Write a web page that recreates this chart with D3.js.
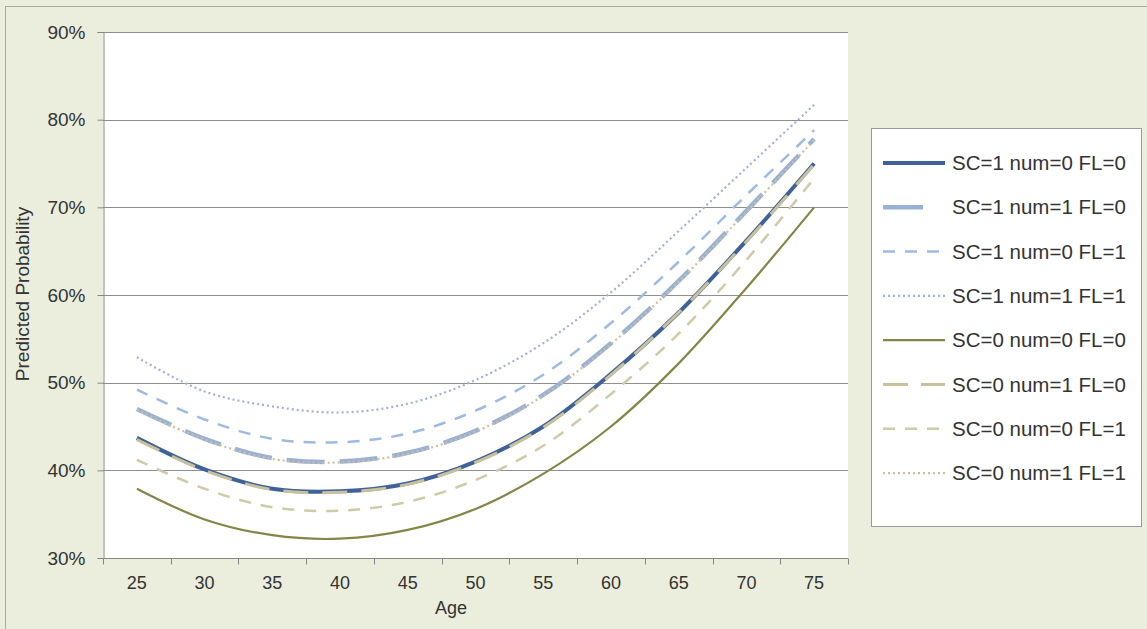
<!DOCTYPE html>
<html>
<head>
<meta charset="utf-8">
<script src="https://cdn.jsdelivr.net/npm/d3@7"></script>
<style>
  html, body { margin: 0; padding: 0; background: #ebeedd; }
  svg { display: block; font-family: "Liberation Sans", Arial, sans-serif; }
</style>
</head>
<body>
<svg id="chart" width="1147" height="629"></svg>
<script>
// Age categories on the x axis
const ages = [25, 30, 35, 40, 45, 50, 55, 60, 65, 70, 75];

// Predicted probabilities (%) for each covariate profile
const sc1num0fl0 = [43.7, 40.1, 37.9, 37.6, 38.5, 41.0, 45.0, 51.0, 58.0, 66.2, 75.0];
const sc1num1fl0 = [47.0, 43.6, 41.4, 41.0, 42.0, 44.5, 48.6, 54.5, 61.6, 69.6, 77.8];
const sc1num0fl1 = [49.2, 45.8, 43.6, 43.2, 44.2, 46.8, 50.9, 56.8, 63.8, 71.4, 78.8];
const sc1num1fl1 = [52.9, 49.0, 47.3, 46.6, 47.6, 50.3, 54.5, 60.3, 67.3, 74.5, 81.7];
const sc0num0fl0 = [37.9, 34.4, 32.6, 32.2, 33.2, 35.6, 39.6, 45.0, 52.2, 60.8, 70.0];
const sc0num1fl0 = [43.5, 40.0, 37.8, 37.5, 38.4, 40.9, 44.9, 50.9, 58.0, 66.1, 74.9];
const sc0num0fl1 = [41.2, 37.9, 35.8, 35.4, 36.4, 38.9, 42.8, 48.7, 55.6, 64.0, 73.3];
const sc0num1fl1 = [46.9, 43.5, 41.3, 40.9, 41.9, 44.4, 48.5, 54.4, 61.5, 69.5, 77.7];

const seriesNames = [
  "SC=1 num=0 FL=0", "SC=1 num=1 FL=0", "SC=1 num=0 FL=1", "SC=1 num=1 FL=1",
  "SC=0 num=0 FL=0", "SC=0 num=1 FL=0", "SC=0 num=0 FL=1", "SC=0 num=1 FL=1"
];
const seriesValues = [sc1num0fl0, sc1num1fl0, sc1num0fl1, sc1num1fl1,
                      sc0num0fl0, sc0num1fl0, sc0num0fl1, sc0num1fl1];

const yTicks = [30, 40, 50, 60, 70, 80, 90];

// Line styling per series
const styles = [
  { color: "#3f6399", width: 4,   dash: null },
  { color: "#98b1d6", width: 4.5, dash: "38,15" },
  { color: "#9dbbe2", width: 2.5, dash: "12,10" },
  { color: "#a3b0d2", width: 2.2, dash: "2,3" },
  { color: "#858548", width: 2.2, dash: null },
  { color: "#c8c19c", width: 3,   dash: "25,14" },
  { color: "#d0caa8", width: 2.5, dash: "12,10" },
  { color: "#cdbf9c", width: 2.2, dash: "2,3" }
];
const legendDash = ["", "40,40", "12,10", "2,3", "", "25,13", "12,10", "2,3"];

const svg = d3.select("#chart");

// Outer chart frame
svg.append("rect")
  .attr("x", 5.5).attr("y", 6.5).attr("width", 1150).attr("height", 640)
  .attr("fill", "#ebeedd").attr("stroke", "#a8aaa0");

const plot = { left: 103, right: 848, top: 32, bottom: 558 };

const x = d3.scaleBand().domain(ages).range([plot.left, plot.right]).padding(0);
const y = d3.scaleLinear().domain([30, 90]).range([plot.bottom, plot.top]);

// White plot area
svg.append("rect")
  .attr("x", plot.left).attr("y", plot.top)
  .attr("width", plot.right - plot.left).attr("height", plot.bottom - plot.top)
  .attr("fill", "#ffffff");

// Horizontal gridlines
svg.append("g")
  .selectAll("line")
  .data(yTicks.filter(d => d > 30))
  .join("line")
  .attr("x1", plot.left).attr("x2", plot.right)
  .attr("y1", d => Math.round(y(d)) + 0.5).attr("y2", d => Math.round(y(d)) + 0.5)
  .attr("stroke", "#8f8f8f").attr("stroke-width", 1);

// Y axis
const yAxis = svg.append("g")
  .attr("transform", `translate(${plot.left + 0.5},0)`)
  .call(d3.axisLeft(y).tickValues(yTicks).tickFormat(d => d + "%").tickSize(6).tickPadding(9));
yAxis.select(".domain").attr("stroke", "#868686");
yAxis.selectAll(".tick line").attr("stroke", "#868686");
yAxis.selectAll(".tick text")
  .attr("font-size", 19).attr("fill", "#333").attr("font-family", "Liberation Sans, Arial, sans-serif")
  .attr("dx", -3);

// X axis: tick marks at category boundaries, labels centered on categories
const xAxisG = svg.append("g").attr("transform", `translate(0,${plot.bottom + 0.5})`);
xAxisG.append("line")
  .attr("x1", plot.left).attr("x2", plot.right)
  .attr("stroke", "#868686");
const boundaries = ages.map(a => x(a)).concat([plot.right]);
xAxisG.selectAll("line.tk")
  .data(boundaries)
  .join("line").attr("class", "tk")
  .attr("x1", d => Math.round(d) + 0.5).attr("x2", d => Math.round(d) + 0.5)
  .attr("y1", 0).attr("y2", 6)
  .attr("stroke", "#868686");
xAxisG.selectAll("text")
  .data(ages)
  .join("text")
  .attr("x", d => x(d) + x.bandwidth() / 2)
  .attr("y", 30)
  .attr("text-anchor", "middle")
  .attr("font-size", 18).attr("fill", "#333")
  .text(d => d);

// Axis titles
svg.append("text")
  .attr("x", 451).attr("y", 614)
  .attr("text-anchor", "middle")
  .attr("font-size", 18).attr("fill", "#333")
  .text("Age");
svg.append("text")
  .attr("transform", "translate(29,294) rotate(-90)")
  .attr("text-anchor", "middle")
  .attr("font-size", 19).attr("fill", "#333")
  .text("Predicted Probability");

// Series lines
const line = d3.line()
  .x((d, i) => x(ages[i]) + x.bandwidth() / 2)
  .y(d => y(d))
  .curve(d3.curveCatmullRom.alpha(0.5));

svg.append("g")
  .selectAll("path")
  .data(d3.range(seriesValues.length))
  .join("path")
  .attr("d", i => line(seriesValues[i]))
  .attr("fill", "none")
  .attr("stroke", i => styles[i].color)
  .attr("stroke-width", i => styles[i].width)
  .attr("stroke-dasharray", i => styles[i].dash)
  .attr("stroke-linecap", "butt")
  .attr("stroke-linejoin", "round");

// Legend
const legend = svg.append("g");
legend.append("rect")
  .attr("x", 871.5).attr("y", 128.5).attr("width", 270).attr("height", 398)
  .attr("fill", "#ffffff").attr("stroke", "#9a9a9a");
const rows = legend.selectAll("g.row")
  .data(seriesNames)
  .join("g").attr("class", "row")
  .attr("transform", (d, i) => `translate(0,${163 + i * 44.3})`);
rows.append("line")
  .attr("x1", 883).attr("x2", 945).attr("y1", 0).attr("y2", 0)
  .attr("stroke", (d, i) => styles[i].color)
  .attr("stroke-width", (d, i) => styles[i].width)
  .attr("stroke-dasharray", (d, i) => legendDash[i] || null);
rows.append("text")
  .attr("x", 952).attr("y", 7)
  .attr("font-size", 20.5).attr("fill", "#333")
  .text(d => d);
</script>
</body>
</html>
